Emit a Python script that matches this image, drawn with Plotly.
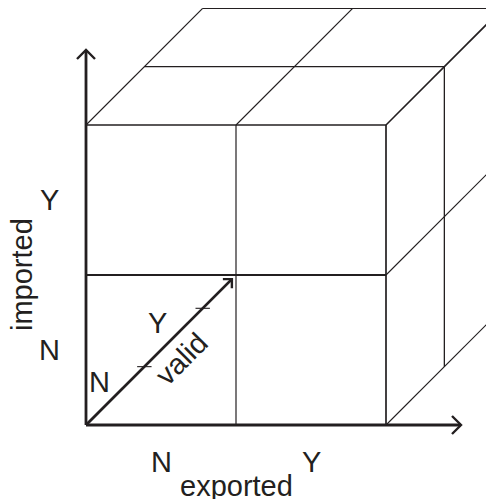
import plotly.graph_objects as go

# categories on each of the three cube axes
exported = ["N", "Y"]
imported = ["N", "Y"]
valid = ["N", "Y"]
axis_titles = ["exported", "imported", "valid"]

ink = "#231f20"
font = dict(family="Liberation Sans, Arial, sans-serif", size=29, color=ink)

depth = 0.389          # oblique projection of the "valid" axis
n = len(exported)      # cells per side
axis_len = n + 0.5


def proj(u, v, d):
    return u + depth * d, v + depth * d


def seg(p, q):
    a, b = proj(*p), proj(*q)
    return [a[0], b[0], None], [a[1], b[1], None]


def add_lines(fig, segs, width, color=ink):
    xs, ys = [], []
    for p, q in segs:
        sx, sy = seg(p, q)
        xs += sx
        ys += sy
    fig.add_trace(go.Scatter(x=xs, y=ys, mode="lines", hoverinfo="skip",
                             line=dict(color=color, width=width)))


fig = go.Figure()

# front face
add_lines(fig, [((0, 1, 0), (n, 1, 0))], 2.2)
add_lines(fig, [((0, n, 0), (n, n, 0)), ((n, 0, 0), (n, n, 0))], 1.7)
add_lines(fig, [((1, 0, 0), (1, n, 0))], 1.2)
# top face
add_lines(fig, [((0, n, k), (n, n, k)) for k in range(1, n + 1)], 1.2)
add_lines(fig, [((i, n, 0), (i, n, n)) for i in range(n)], 1.1)
add_lines(fig, [((n, n, 0), (n, n, n))], 1.6)
# right face
add_lines(fig, [((n, j, 0), (n, j, n)) for j in range(n)], 1.1)
add_lines(fig, [((n, 0, k), (n, n, k)) for k in range(1, n + 1)], 1.3)

# axes with open arrowheads
h = 0.06
add_lines(fig, [((0, 0, 0), (axis_len, 0, 0)),
                ((0, 0, 0), (0, axis_len, 0)),
                ((0, 0, 0), (0, 0, axis_len))], 2.8)
tx, ty = proj(0, 0, axis_len)
heads = dict(
    x=[axis_len - h, axis_len, axis_len - h, None, -h, 0, h, None, tx - h, tx, tx],
    y=[h, 0, -h, None, axis_len - h, axis_len, axis_len - h, None, ty, ty, ty - h],
)
fig.add_trace(go.Scatter(**heads, mode="lines", hoverinfo="skip",
                         line=dict(color=ink, width=2.4)))

# ticks on the valid axis
tk = 0.048
xs, ys = [], []
for k in range(1, n + 1):
    px, py = proj(0, 0, k)
    xs += [px - tk, px + tk, None]
    ys += [py, py, None]
fig.add_trace(go.Scatter(x=xs, y=ys, mode="lines", hoverinfo="skip",
                         line=dict(color=ink, width=1.1)))

# labels
ann = []
for i, c in enumerate(exported):
    ann.append(dict(x=i + 0.5, y=0, text=c, yshift=-37))
ann.append(dict(x=n / 2, y=0, text=axis_titles[0], yshift=-61))
for j, c in enumerate(imported):
    ann.append(dict(x=0, y=j + 0.5, text=c, xshift=-37))
ann.append(dict(x=0, y=n / 2, text=axis_titles[1], xshift=-64, textangle=-90))
for k, c in enumerate(valid):
    px, py = proj(0, 0, k + 0.5)
    ann.append(dict(x=px, y=py, text=c, xshift=-16, yshift=14))
px, py = proj(0, 0, 1.38)
ann.append(dict(x=px, y=py, text=axis_titles[2], xshift=15, yshift=-15, textangle=-45))
for a in ann:
    a.update(xref="x", yref="y", showarrow=False, font=font)

# the page body adds an 8px margin, so the figure is sized to the visible area
pad = 8
W, H = 494 - pad, 499 - pad
ox, oy, s = 86 - pad, 425 - pad, 150  # origin pixel and pixels per cell
fig.update_layout(
    width=W, height=H, margin=dict(l=0, r=0, t=0, b=0),
    paper_bgcolor="white", plot_bgcolor="white", showlegend=False,
    annotations=ann,
    xaxis=dict(range=[-ox / s, (W - ox) / s], visible=False, fixedrange=True),
    yaxis=dict(range=[-(H - oy) / s, oy / s], visible=False, fixedrange=True),
)

fig.write_html("out.html")
